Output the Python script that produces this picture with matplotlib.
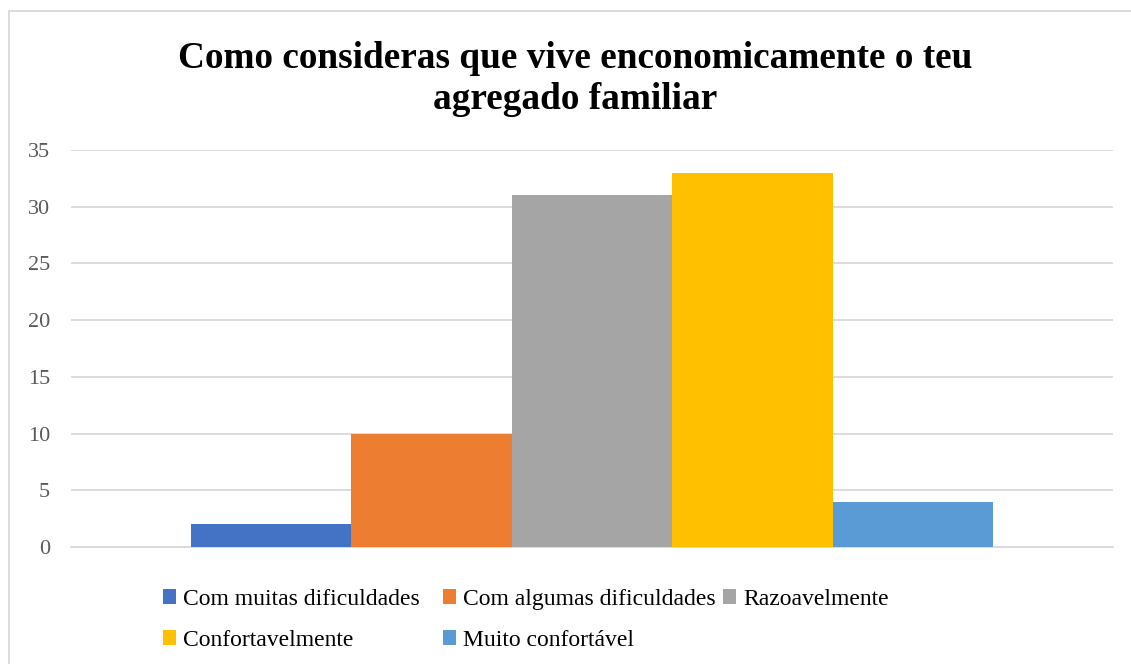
import matplotlib
matplotlib.use("Agg")
import matplotlib.pyplot as plt
from matplotlib.lines import Line2D
from matplotlib.patches import Patch

categories = ["Com muitas dificuldades", "Com algumas dificuldades", "Razoavelmente",
              "Confortavelmente", "Muito confortável"]
values = [2, 10, 31, 33, 4]
colors = ["#4472C4", "#ED7D31", "#A5A5A5", "#FFC000", "#5B9BD5"]
yticks = [0, 5, 10, 15, 20, 25, 30, 35]
title = "Como consideras que vive enconomicamente o teu\nagregado familiar"

plt.rcParams['font.family'] = ['Liberation Serif', 'DejaVu Serif']

W, H = 1131, 664
fig = plt.figure(figsize=(W / 100, H / 100), dpi=100)
ax = fig.add_axes([71 / W, 1 - 547 / H, (1113 - 71) / W, (547 - 150) / H])

n = len(values)
bw = 0.7697 / n
for i, (c, v, col) in enumerate(zip(categories, values, colors)):
    x = (i - (n - 1) / 2) * bw
    ax.bar(x, v, width=bw, color=col, label=c, zorder=3)

ax.set_xlim(-0.5, 0.5)
ax.set_ylim(0, 35)
ax.set_yticks(yticks)
ax.set_xticks([])
ax.grid(axis='y', color='#D9D9D9', linewidth=1.3, zorder=0)
for s in ['top', 'right', 'left']:
    ax.spines[s].set_visible(False)
ax.spines['bottom'].set_color('#D9D9D9')
ax.spines['bottom'].set_linewidth(1.3)
ax.tick_params(axis='y', length=0, labelsize=16, labelcolor='#595959', pad=15)

fig.text(575 / W, 1 - 79 / H, title, ha='center', va='center', fontsize=26.8,
         fontweight='bold', color='black', linespacing=1.25)

handles = [Patch(facecolor=c, edgecolor='none') for c in colors]
leg_kw = dict(loc='upper left', frameon=False, fontsize=17, handlelength=0.55,
              handleheight=0.55, handletextpad=0.3, columnspacing=1.0,
              labelspacing=0.85, borderpad=0)
order = [0, 3, 1, 4]
leg1 = fig.legend([handles[i] for i in order], [categories[i] for i in order],
                  bbox_to_anchor=(151 / W, 1 - 577 / H), ncol=2, **leg_kw)
leg2 = fig.legend([handles[2]], [categories[2]],
                  bbox_to_anchor=(711 / W, 1 - 577 / H), ncol=1, **leg_kw)

# outer chart border (left and top only visible)
fig.add_artist(Line2D([9 / W, 9 / W], [0, 1 - 11 / H], color='#D9D9D9', linewidth=1.3,
                      transform=fig.transFigure))
fig.add_artist(Line2D([9 / W, 1], [1 - 11 / H, 1 - 11 / H], color='#D9D9D9', linewidth=1.3,
                      transform=fig.transFigure))

fig.savefig("out.png", dpi=100)
